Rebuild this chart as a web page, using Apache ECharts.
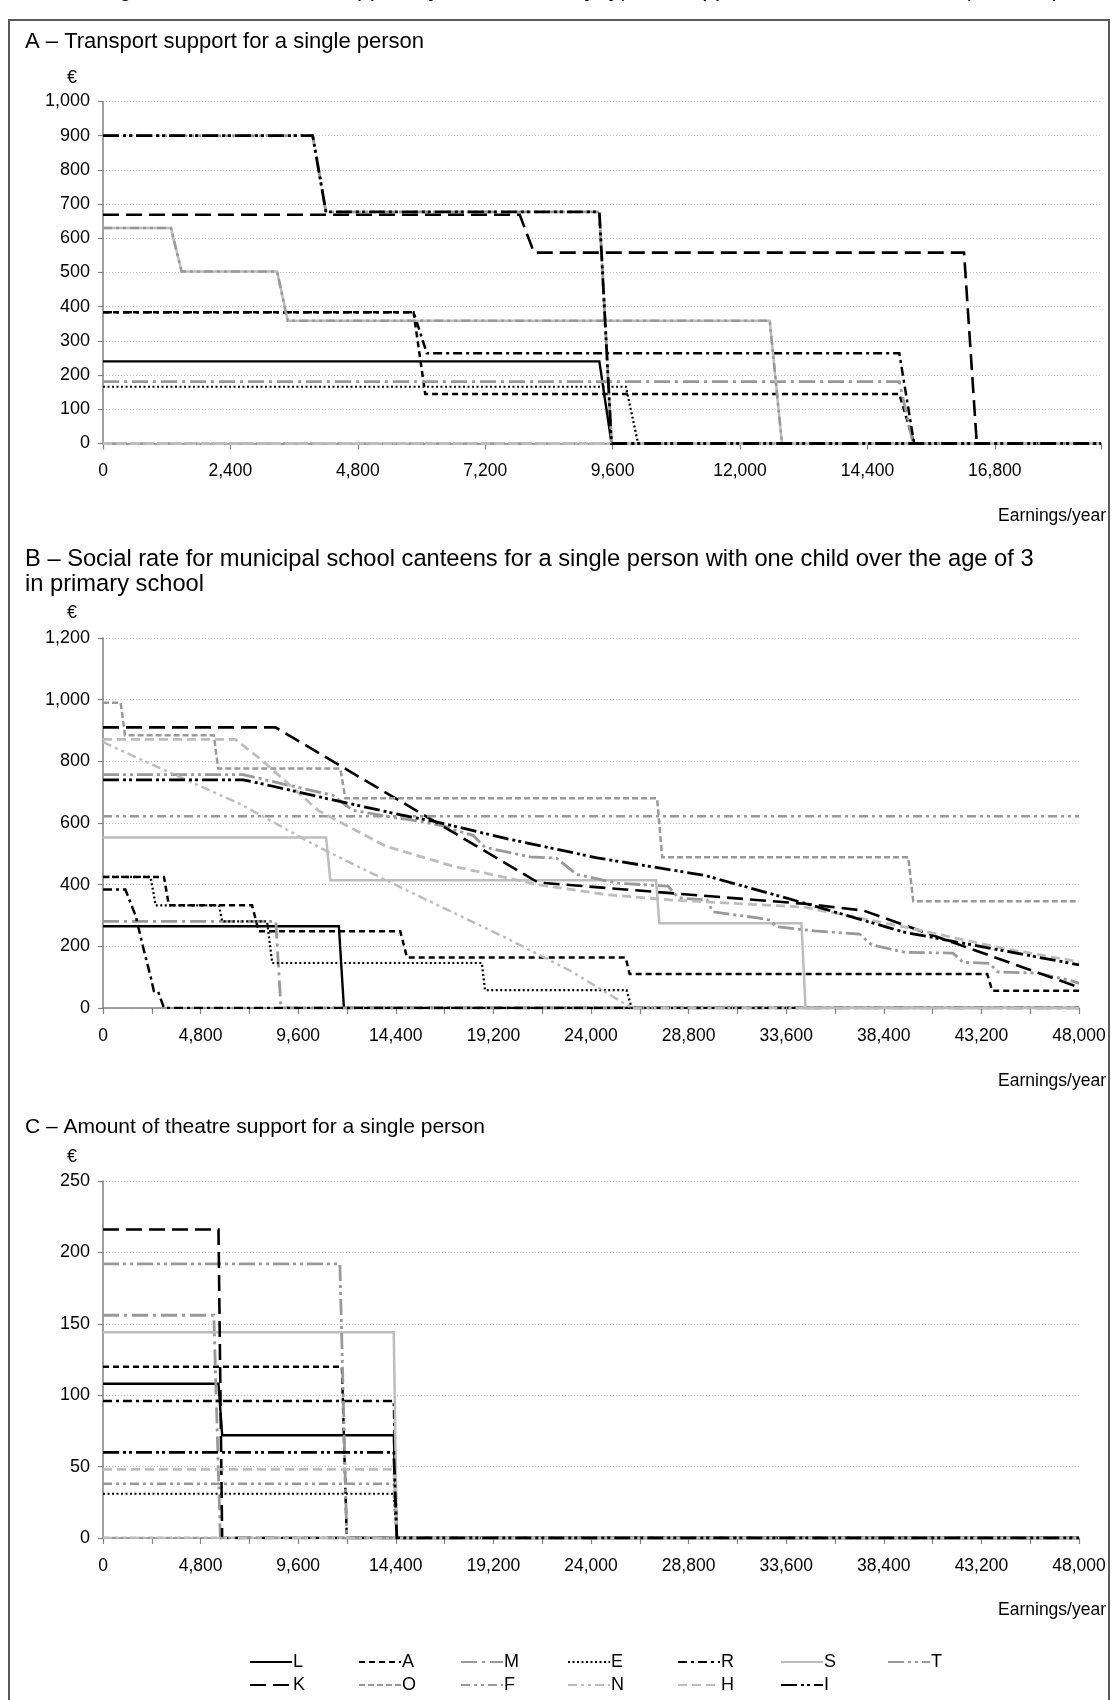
<!DOCTYPE html>
<html><head><meta charset="utf-8">
<script src="https://cdn.jsdelivr.net/npm/echarts@6/dist/echarts.min.js"></script>
<style>html,body{margin:0;padding:0;background:#fff}#c{width:1112px;height:1700px}</style>
</head><body><div id="c"></div>
<script>
// ---------- categories ----------
const cities = ['L','A','M','E','R','S','T','K','O','F','N','H','I'];

// ---------- axis ranges / ticks ----------
const A_xMax = 18800, A_xStep = 2400, A_yMax = 1000, A_yStep = 100;
const B_xMax = 48000, B_xTick = 2400, B_xLabel = 4800, B_yMax = 1200, B_yStep = 200;
const C_xMax = 48000, C_xTick = 2400, C_xLabel = 4800, C_yMax = 250, C_yStep = 50;

// ---------- Panel A: transport support (earnings/year, €) ----------
const A_L = [[0,240],[9350,240],[9580,0],[18800,0]];
const A_A = [[0,384],[5850,384],[6070,145],[15000,145],[15280,0],[18800,0]];
const A_M = [[0,181],[15000,181],[15260,0],[18800,0]];
const A_E = [[0,166],[9850,166],[10080,0],[18800,0]];
const A_R = [[0,384],[5850,384],[6100,264],[15000,264],[15280,0],[18800,0]];
const A_S = [[0,630],[1280,630],[1480,503],[3280,503],[3480,359],[12560,359],[12790,0],[18800,0]];
const A_T = [[0,900],[3950,900],[4200,677],[9350,677],[9580,0],[18800,0]];
const A_K = [[0,669],[7850,669],[8120,558],[16220,558],[16460,0],[18800,0]];
const A_O = [[0,0],[18800,0]];
const A_F = [[0,630],[1280,630],[1480,503],[3280,503],[3480,359],[12560,359],[12790,0],[18800,0]];
const A_N = [[0,0],[18800,0]];
const A_H = [[0,0],[18800,0]];
const A_I = [[0,900],[3950,900],[4200,677],[9350,677],[9580,0],[18800,0]];

// ---------- Panel B: school canteens ----------
const B_L = [[0,265],[11600,265],[11850,0],[48000,0]];
const B_A = [[0,425],[3000,425],[3240,333],[7330,333],[7660,249],[14620,249],[14950,164],[25700,164],[25900,110],[43490,110],[43730,56],[48000,56]];
const B_M = [[0,281],[8500,281],[8750,0],[48000,0]];
const B_E = [[0,425],[2340,425],[2590,333],[5700,333],[5860,281],[8070,281],[8320,146],[18630,146],[18790,58],[25750,58],[26000,0],[48000,0]];
const B_R = [[0,384],[1100,384],[1600,300],[2000,190],[2350,100],[2500,55],[2700,55],[3000,0],[48000,0]];
const B_S = [[0,553],[10970,553],[11180,414],[27200,414],[27360,275],[34350,275],[34550,0],[48000,0]];
const B_T = [[0,757],[6900,757],[8300,735],[11300,690],[11900,660],[12300,641],[14500,615],[15000,612],[16800,590],[17200,579],[18200,560],[18800,521],[21000,490],[22300,486],[23300,433],[25300,405],[27800,395],[28300,357],[29700,350],[30000,312],[32200,292],[32800,285],[33100,264],[35000,250],[37200,240],[37800,205],[39400,181],[41800,178],[42300,148],[43600,145],[44000,117],[46000,113],[47600,89],[48000,80]];
const B_K = [[0,910],[8480,910],[21400,407],[34500,338],[37400,316],[48000,67]];
const B_O = [[0,990],[870,990],[1080,885],[5450,885],[5660,777],[11670,777],[11920,680],[27250,680],[27500,489],[39600,489],[39850,346],[48000,346]];
const B_F = [[0,622],[48000,622]];
const B_N = [[0,862],[2400,790],[6800,660],[10600,522],[13900,415],[17200,310],[19800,228],[23000,120],[26000,0],[48000,0]];
const B_H = [[0,871],[6500,871],[7700,810],[10600,640],[13900,525],[17200,460],[21400,400],[24700,368],[28000,350],[34500,327],[39400,263],[44300,193],[48000,150]];
const B_I = [[0,740],[6900,740],[8300,720],[11300,675],[14600,627],[16300,605],[19800,550],[24300,487],[29600,430],[34500,340],[39400,246],[48000,140]];

// ---------- Panel C: theatre support ----------
const C_L = [[0,108],[5680,108],[5860,72],[14300,72],[14450,0],[48000,0]];
const C_A = [[0,120],[11750,120],[11990,0],[48000,0]];
const C_M = [[0,156],[5450,156],[5770,0],[48000,0]];
const C_E = [[0,31],[14300,31],[14450,0],[48000,0]];
const C_R = [[0,96],[14300,96],[14450,0],[48000,0]];
const C_S = [[0,144],[14300,144],[14450,0],[48000,0]];
const C_T = [[0,192],[11650,192],[11990,0],[48000,0]];
const C_K = [[0,216],[5680,216],[5860,0],[48000,0]];
const C_O = [[0,0],[48000,0]];
const C_F = [[0,38],[14300,38],[14450,0],[48000,0]];
const C_N = [[0,0],[48000,0]];
const C_H = [[0,48],[14300,48],[14450,0],[48000,0]];
const C_I = [[0,60],[14300,60],[14450,0],[48000,0]];

// ---------- texts ----------
const topTitle = 'Figure 4 – Amounts of support by income and by type of support in the cities studied (in euros)';
const titleA = 'A – Transport support for a single person';
const titleB1 = 'B – Social rate for municipal school canteens for a single person with one child over the age of 3';
const titleB2 = 'in primary school';
const titleC = 'C – Amount of theatre support for a single person';
const xName = 'Earnings/year';
const yUnit = '€';

// ---------- build ----------
const panelA = {L:A_L,A:A_A,M:A_M,E:A_E,R:A_R,S:A_S,T:A_T,K:A_K,O:A_O,F:A_F,N:A_N,H:A_H,I:A_I};
const panelB = {L:B_L,A:B_A,M:B_M,E:B_E,R:B_R,S:B_S,T:B_T,K:B_K,O:B_O,F:B_F,N:B_N,H:B_H,I:B_I};
const panelC = {L:C_L,A:C_A,M:C_M,E:C_E,R:C_R,S:C_S,T:C_T,K:C_K,O:C_O,F:C_F,N:C_N,H:C_H,I:C_I};

const BLACK='#000000', GRAY='#999999', LIGHT='#bdbdbd';
const styleOf = {
  L:{c:BLACK, t:'solid', w:2.4},
  A:{c:BLACK, t:[6,4], w:2.5},
  M:{c:GRAY,  t:[16,5,3,5], w:2.8},
  E:{c:BLACK, t:[2,2.5], w:2.2},
  R:{c:BLACK, t:[9,4,3,4], w:2.5},
  S:{c:LIGHT, t:'solid', w:2.5},
  T:{c:GRAY,  t:[16,4,3,4,3,4], w:2.8},
  K:{c:BLACK, t:[16,7], w:2.6},
  O:{c:GRAY,  t:[6,3], w:2.5},
  F:{c:GRAY,  t:[9,4,3,4,3,4], w:2.5},
  N:{c:LIGHT, t:[9,4,3,4,3,4], w:2.5},
  H:{c:LIGHT, t:[9,5], w:2.8},
  I:{c:BLACK, t:[16,4,3,3,3,4], w:2.8}
};

const FONT = '"Liberation Sans", Arial, sans-serif';
const fmt = v => v.toLocaleString('en-US');

function xAxisFor(idx, max, tick, labelStep){
  return {
    type:'value', gridIndex:idx, min:0, max:max, interval:tick,
    axisLine:{show:true, onZero:true, lineStyle:{color:'#808080', width:1.5}},
    axisTick:{show:true, length:6, lineStyle:{color:'#808080', width:1.2}},
    axisLabel:{color:'#000', fontSize:17.5, fontFamily:FONT, margin:19,
      formatter: v => (Math.abs(v % labelStep) < 1e-6 ? fmt(v) : '')},
    splitLine:{show:false}
  };
}
function yAxisFor(idx, max, step){
  return {
    type:'value', gridIndex:idx, min:0, max:max, interval:step,
    axisLine:{show:true, lineStyle:{color:'#808080', width:1.5}},
    axisTick:{show:true, length:5, lineStyle:{color:'#808080', width:1.2}},
    axisLabel:{color:'#000', fontSize:18, fontFamily:FONT, margin:13, formatter: v => fmt(v)},
    splitLine:{show:true, lineStyle:{color:'#c4c4c4', width:1, type:[1,2]}}
  };
}

const series = [];
[panelA, panelB, panelC].forEach((p, gi) => {
  cities.forEach(c => {
    const s = styleOf[c];
    series.push({
      name:c, type:'line', xAxisIndex:gi, yAxisIndex:gi, data:p[c],
      symbol:'none', showSymbol:false, animation:false, clip:true,
      lineStyle:{color:s.c, width:s.w, type:s.t, cap:'butt', join:'miter'},
      itemStyle:{color:s.c}
    });
  });
});

const colX = [249, 358, 460, 567, 677, 780, 887];
const rowY = [1653, 1676];
const legends = cities.map((c, i) => {
  const row = i < 7 ? 0 : 1;
  const col = i < 7 ? i : i - 7;
  return {
    data:[c], left:colX[col], top:rowY[row], orient:'horizontal',
    padding:0, itemWidth:42, itemHeight:12, selectedMode:false,
    itemStyle:{opacity:0, color:'transparent', borderWidth:0},
    textStyle:{fontSize:18, color:'#000', fontFamily:FONT, padding:[0,0,0,-4]}
  };
});

function txt(text, x, y, size, align, valign){
  return {type:'text', silent:true, style:{text:text, x:x, y:y, fill:'#000',
    font: size + 'px ' + FONT, align:align||'left', verticalAlign:valign||'middle'}};
}

const option = {
  animation:false,
  backgroundColor:'#ffffff',
  grid:[
    {left:103, top:101.5, width:998, height:342, containLabel:false},
    {left:103, top:638, width:976, height:370, containLabel:false},
    {left:103, top:1181, width:976, height:357, containLabel:false}
  ],
  xAxis:[ xAxisFor(0, A_xMax, A_xStep, A_xStep), xAxisFor(1, B_xMax, B_xTick, B_xLabel), xAxisFor(2, C_xMax, C_xTick, C_xLabel) ],
  yAxis:[ yAxisFor(0, A_yMax, A_yStep), yAxisFor(1, B_yMax, B_yStep), yAxisFor(2, C_yMax, C_yStep) ],
  legend: legends,
  series: series,
  graphic:[
    {type:'rect', silent:true, shape:{x:9, y:20, width:1100, height:1700}, style:{fill:'none', stroke:'#5a5a5a', lineWidth:2}},
    txt(topTitle, 100, -10, 23, 'left', 'middle'),
    txt(titleA, 25, 42, 22),
    txt(yUnit, 72, 78, 18, 'center'),
    txt(xName, 1106, 516, 17.5, 'right'),
    txt(titleB1, 25, 559, 23.7),
    txt(titleB2, 25, 584, 23.7),
    txt(yUnit, 72, 613, 18, 'center'),
    txt(xName, 1106, 1081, 17.5, 'right'),
    txt(titleC, 25, 1127, 21),
    txt(yUnit, 72, 1157, 18, 'center'),
    txt(xName, 1106, 1610, 17.5, 'right')
  ]
};

const chart = echarts.init(document.getElementById('c'), null, {renderer:'canvas', width:1112, height:1700});
chart.setOption(option);
</script>
</body></html>
